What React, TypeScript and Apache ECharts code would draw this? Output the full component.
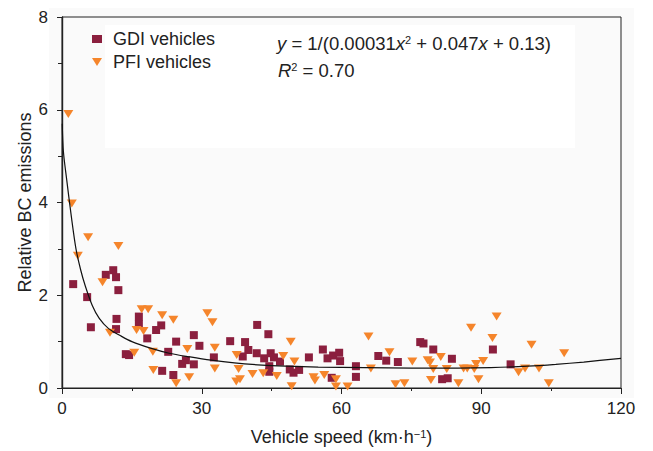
import React, { useEffect, useRef } from "react";
import * as echarts from "echarts";

const gdiSpeed = [2.4, 9.4, 11.0, 11.6, 12.1, 5.4, 6.2, 11.7, 11.6, 16.5, 16.5, 18.3, 20.2, 21.3, 24.5, 13.7, 14.4, 22.8, 21.5, 23.9, 25.8, 26.6, 28.3, 29.5, 28.3, 32.6, 36.1, 39.3, 40.0, 41.9, 44.3, 41.8, 43.4, 44.8, 45.5, 46.8, 44.5, 38.8, 44.5, 48.9, 49.7, 50.9, 53.0, 56.0, 57.0, 58.2, 59.5, 59.7, 57.9, 63.1, 63.1, 67.9, 69.6, 72.1, 76.9, 77.6, 79.7, 83.7, 81.6, 82.8, 92.5, 96.3];
const gdiBC = [2.24, 2.44, 2.54, 2.39, 2.11, 1.96, 1.31, 1.49, 1.27, 1.54, 1.38, 1.07, 1.25, 1.35, 1.0, 0.73, 0.71, 0.78, 0.37, 0.28, 0.52, 0.6, 1.14, 0.91, 0.51, 0.66, 1.01, 0.99, 0.82, 1.36, 1.16, 0.75, 0.64, 0.75, 0.66, 0.57, 0.47, 0.68, 0.35, 0.4, 0.33, 0.39, 0.66, 0.83, 0.64, 0.7, 0.76, 0.58, 0.22, 0.47, 0.24, 0.69, 0.59, 0.56, 0.99, 0.96, 0.83, 0.63, 0.19, 0.21, 0.83, 0.51];

const pfiSpeed = [1.35, 2.1, 5.6, 12.1, 3.4, 8.7, 17.1, 18.5, 21.5, 23.9, 10.3, 16.0, 17.5, 15.5, 19.5, 19.6, 24.5, 26.9, 27.3, 31.2, 32.3, 32.8, 32.8, 37.5, 37.9, 37.4, 38.2, 40.9, 43.2, 46.1, 47.5, 49.1, 49.9, 49.3, 54.0, 54.3, 56.3, 58.8, 58.8, 61.3, 65.8, 70.3, 66.3, 75.2, 78.5, 79.0, 81.3, 79.7, 82.6, 79.2, 85.1, 86.2, 87.0, 88.5, 88.9, 90.4, 87.8, 92.4, 93.3, 89.4, 71.6, 73.5, 100.8, 107.8, 98.0, 99.4, 102.4, 104.5];
const pfiBC = [5.91, 3.98, 3.25, 3.06, 2.85, 2.28, 1.7, 1.7, 1.57, 1.47, 1.19, 1.25, 1.23, 0.76, 0.78, 0.39, 0.1, 0.84, 0.23, 1.61, 1.42, 0.87, 0.42, 0.71, 0.41, 0.14, 0.19, 0.3, 0.32, 0.26, 0.69, 1.0, 0.57, 0.04, 0.23, 0.16, 0.28, 0.19, 0.03, 0.03, 1.11, 0.77, 0.42, 0.57, 0.6, 0.55, 0.67, 0.41, 0.41, 0.17, 0.1, 0.42, 0.42, 0.41, 0.52, 0.58, 1.3, 1.08, 1.54, 0.19, 0.08, 0.1, 0.93, 0.75, 0.34, 0.42, 0.42, 0.1];

// fitted curve
const fitSpeed = [0.05, 0.3, 1, 2, 3, 4, 5, 6.5, 8, 10, 12.5, 15, 19, 23, 27.5, 32, 37, 42, 48, 55, 65, 75, 85, 92, 100, 106, 112, 120];
const fitBC = [5.7, 5.1, 4.5, 3.7, 3.0, 2.55, 2.2, 1.78, 1.5, 1.28, 1.13, 1.0, 0.86, 0.75, 0.67, 0.6, 0.54, 0.5, 0.47, 0.45, 0.44, 0.43, 0.43, 0.44, 0.47, 0.51, 0.56, 0.64];

const seriesNames = ["GDI vehicles", "PFI vehicles"];
const equationLine = "{i|y} = 1/(0.00031{i|x}{s|2} + 0.047{i|x} + 0.13)";
const r2Line = "{i|R}{s|2} = 0.70";
const xAxisTitle = "Vehicle speed (km·h{s|−1})";
const yAxisTitle = "Relative BC emissions";

const FONT = "'Liberation Sans', Arial, Helvetica, sans-serif";
const GDI_COLOR = "#8b1f3e";
const PFI_COLOR = "#f5852b";
const TEXT = "#222";

const zip = (a: number[], b: number[]) => a.map((v, i) => [v, b[i]]);

export default function App() {
  const ref = useRef<HTMLDivElement>(null);
  useEffect(() => {
    document.body.style.margin = "0";
    const chart = echarts.init(ref.current!, null, { renderer: "svg" });
    const supRich = {
      i: { fontStyle: "italic", fontSize: 18.5, fontFamily: FONT, color: TEXT },
      s: { fontSize: 11, fontFamily: FONT, color: TEXT, verticalAlign: "top" },
    };
    chart.setOption({
      animation: false,
      backgroundColor: "#ffffff",
      textStyle: { fontFamily: FONT },
      grid: {
        left: 62,
        right: 32,
        top: 17,
        bottom: 63,
        show: true,
        borderColor: "#222",
        borderWidth: 1,
        backgroundColor: "transparent",
      },
      legend: {
        data: [
          { name: seriesNames[0], icon: "rect" },
          { name: seriesNames[1], icon: "path://M0,0 L10,0 L5,8 Z" },
        ],
        orient: "vertical",
        left: 87,
        top: 25,
        itemWidth: 10,
        itemHeight: 8,
        itemGap: 5,
        textStyle: { fontSize: 18, color: TEXT, fontFamily: FONT, padding: [0, 0, 0, 6] },
      },
      xAxis: {
        type: "value",
        min: 0,
        max: 120,
        interval: 30,
        name: xAxisTitle,
        nameLocation: "middle",
        nameGap: 40,
        nameMoveOverlap: false,
        nameTextStyle: { fontSize: 18, color: TEXT, fontFamily: FONT, rich: { s: { fontSize: 11, color: TEXT, fontFamily: FONT, verticalAlign: "top" } } },
        axisLine: { lineStyle: { color: "#222", width: 1.2 } },
        axisTick: { show: true, length: 6, lineStyle: { color: "#222" } },
        minorTick: { show: true, splitNumber: 2, length: 3, lineStyle: { color: "#222" } },
        axisLabel: { fontSize: 17, color: TEXT, margin: 12, fontFamily: FONT },
        splitLine: { show: false },
      },
      yAxis: {
        type: "value",
        min: 0,
        max: 8,
        interval: 2,
        name: yAxisTitle,
        nameLocation: "middle",
        nameGap: 28,
        nameMoveOverlap: false,
        nameTextStyle: { fontSize: 18, color: TEXT, fontFamily: FONT },
        axisLine: { lineStyle: { color: "#222", width: 1.4 } },
        axisTick: { show: true, length: 5, lineStyle: { color: "#222" } },
        minorTick: { show: true, splitNumber: 2, length: 4, lineStyle: { color: "#222" } },
        axisLabel: { fontSize: 17, color: TEXT, margin: 14, fontFamily: FONT },
        splitLine: { show: false },
      },
      graphic: [
        {
          type: "rect",
          z: -10,
          silent: true,
          shape: { x: 49, y: 8, width: 585, height: 390 },
          style: { fill: "#fafafa" },
        },
        {
          type: "rect",
          z: -9,
          silent: true,
          shape: { x: 105, y: 25, width: 470, height: 123 },
          style: { fill: "#ffffff" },
        },
        {
          type: "text",
          left: 277,
          top: 34,
          z: 10,
          style: {
            text: equationLine,
            fontSize: 18.5,
            fontFamily: FONT,
            fill: TEXT,
            rich: supRich,
          },
        },
        {
          type: "text",
          left: 278,
          top: 61,
          z: 10,
          style: {
            text: r2Line,
            fontSize: 18.5,
            fontFamily: FONT,
            fill: TEXT,
            rich: supRich,
          },
        },
      ],
      series: [
        {
          name: seriesNames[0],
          type: "scatter",
          symbol: "rect",
          symbolSize: 8,
          itemStyle: { color: GDI_COLOR, opacity: 1 },
          data: zip(gdiSpeed, gdiBC),
          z: 3,
        },
        {
          name: seriesNames[1],
          type: "scatter",
          symbol: "triangle",
          symbolRotate: 180,
          symbolSize: [10, 8],
          itemStyle: { color: PFI_COLOR, opacity: 1 },
          data: zip(pfiSpeed, pfiBC),
          z: 4,
        },
        {
          name: "fit",
          type: "line",
          data: zip(fitSpeed, fitBC),
          smooth: 0.3,
          showSymbol: false,
          symbol: "none",
          lineStyle: { color: "#111", width: 1.2 },
          z: 5,
          silent: true,
        },
      ],
    });
    return () => chart.dispose();
  }, []);
  return <div ref={ref} style={{ width: 653, height: 451 }} />;
}
